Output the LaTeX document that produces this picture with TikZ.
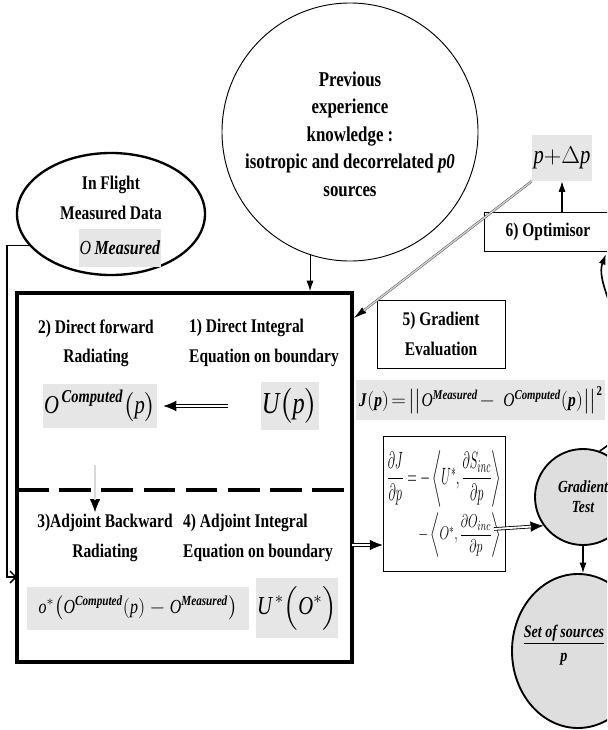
\documentclass[tikz,border=0pt]{standalone}
\usepackage{amsmath}
\usepackage{graphicx}
\usepackage{fontspec}
\setmainfont{Liberation Serif}[FakeStretch=0.8]
\definecolor{boxgray}{RGB}{230,230,230}
\definecolor{ballgray}{RGB}{222,222,222}
\usetikzlibrary{arrows.meta,positioning,shapes.geometric,calc}
% double shaft drawn over a plain arrow, so the head stays solid
\newcommand{\dbllink}[4]{%
  \draw[#2] #3 -- #4;
  \draw[#1] #3 -- ($#4!10.5pt!#3$);}

\begin{document}
\begin{tikzpicture}[x=0.03cm, y=-0.03cm,
    lbl/.style={font=\fontsize{16.5}{25}\selectfont\bfseries, inner sep=0pt},
    gbox/.style={fill=boxgray, inner sep=1pt},
    tbox/.style={draw, line width=0.8pt, align=center,
                 font=\fontsize{16.5}{25}\selectfont\bfseries},
    oval/.style={ellipse, draw, inner sep=0pt},
    ball/.style={draw, line width=1.6pt, fill=ballgray, inner sep=0pt},
    arr/.style={-{Latex[length=9pt,width=6pt]}, line width=0.9pt},
    tipline/.style={line width=0.6pt, -{Latex[length=11pt,width=9pt]}},
    thintip/.style={line width=0.4pt, -{Latex[length=11pt,width=6pt]}},
    dblshaft/.style={double, double distance=1.6pt, line width=0.7pt},
    grayshaft/.style={draw=gray, double=gray!30, double distance=1.4pt, line width=0.5pt},
    thinshaft/.style={draw=gray!60!black, double=gray!35, double distance=1.2pt, line width=0.4pt}
  ]
    \useasboundingbox (0,0) rectangle (607,730);
    \clip (0,0) rectangle (607,730);

    % Prior knowledge
    \node[oval, line width=0.8pt, minimum width=7.68cm, minimum height=7.74cm] (prev) at (350,132) {};
    \node[lbl, align=center, font=\fontsize{18}{23.5}\selectfont\bfseries] (prevtxt) at (350,134)
      {Previous\\experience\\knowledge :\\isotropic and decorrelated \textit{p0}\\sources};

    % Measured data
    \node[oval, line width=2pt, minimum width=5.64cm, minimum height=3.66cm] (flight) at (111,214) {};
    \node[lbl, align=center] (flighttxt) at (111,198) {In Flight\\Measured Data};
    \node[gbox, font=\fontsize{17}{20}\selectfont, minimum width=2.4cm, minimum height=1.14cm] (meas) at (120,248)
      {\textit{O}\,\textbf{\textit{Measured}}};

    % Solver block
    \node[draw, line width=3pt, minimum width=10.05cm, minimum height=11.07cm, inner sep=0pt] (core) at (184.5,477.5) {};
    \coordinate (split) at (17,490);
    \draw[line width=3.2pt, dash pattern=on 27pt off 9pt] (split) -- (split -| core.east);

    \node[lbl, align=center] (fwd) at (96,343) {2) Direct forward\\Radiating};
    \node[lbl, align=left, anchor=west] (dirint) at (189,343) {1) Direct Integral\\Equation on boundary};
    \node[lbl, align=center] (bwd) at (105,538) {3)Adjoint Backward\\Radiating};
    \node[lbl, align=left, anchor=west] (adjint) at (183,538) {4) Adjoint Integral\\Equation on boundary};

    \node[gbox, font=\fontsize{22}{24}\selectfont, minimum width=3.42cm, minimum height=1.32cm] (ocomp) at (100,406)
      {$\textit{O}^{\,\textbf{\textit{Computed}}}\big(\textit{p}\big)$};
    \node[gbox, font=\fontsize{26}{28}\selectfont, minimum width=1.53cm, minimum height=1.44cm] (up) at (290,406)
      {$\textit{U}\big(\textit{p}\big)$};
    \dbllink{dblshaft}{tipline}{($(up.west)+(-32,0)$)}{($(up.west -| ocomp.east)+(6,0)$)}

    \coordinate (dnA) at (95,465);
    \coordinate (dnB) at (95,512);
    \dbllink{grayshaft}{tipline}{(dnA)}{(dnB)}

    \node[gbox, font=\fontsize{17}{20}\selectfont, minimum width=6.66cm, minimum height=1.29cm] (adj) at (138,608)
      {$\textit{o}^{*}\big(\textit{O}^{\textbf{\textit{Computed}}}(\textit{p}) - \textit{O}^{\textbf{\textit{Measured}}}\big)$};
    \node[gbox, font=\fontsize{22}{24}\selectfont, minimum width=2.19cm, minimum height=1.8cm] (ustar) at (297,608)
      {$\textit{U}^{\,*}\Big(\textit{O}^{*}\Big)$};

    % Optimisation loop
    \node[tbox, minimum width=3.84cm, minimum height=2.04cm] (geval) at (441,334) {5) Gradient\\Evaluation};
    \node[tbox, minimum width=3.84cm, minimum height=1.17cm] (opt) at (548,232) {6) Optimisor};
    \node[gbox, font=\fontsize{22}{24}\selectfont, minimum width=1.8cm, minimum height=1.38cm] (pdp) at (562,158)
      {$\textit{p}{+}\Delta\textit{p}$};
    \draw[arr] (pdp.south |- opt.north) -- (pdp.south);

    \node[gbox, font=\fontsize{16.5}{18}\selectfont, minimum width=7.47cm, minimum height=1.2cm, anchor=west] (jfun) at (356,400)
      {$\textbf{\textit{J}}(\textbf{\textit{p}})\!=\!\big|\big|\textit{O}^{\textbf{\textit{Measured}}}\!-\ \textit{O}^{\textbf{\textit{Computed}}}(\textbf{\textit{p}})\big|\big|^{\textbf{2}}$};

    \node[draw, line width=0.6pt, inner sep=2pt, font=\fontsize{15}{17}\selectfont, align=right,
          minimum width=3.66cm, minimum height=4.05cm] (fgrad) at (444,504)
      {\scalebox{0.74}[1.4]{$\dfrac{\partial J}{\partial p} = -\left\langle U^{*}, \dfrac{\partial S_{inc}}{\partial p}\right\rangle$}\\[4pt]
       \scalebox{0.74}[1.1]{$-\left\langle O^{*}, \dfrac{\partial O_{inc}}{\partial p}\right\rangle$}};

    \node[ball, circle, minimum size=2.88cm, align=center,
          font=\fontsize{14.5}{17}\selectfont\bfseries\itshape] (gtest) at (583,497) {Gradient\\Test};
    \node[ball, ellipse, minimum width=3.96cm, minimum height=4.62cm] (srcs) at (578,651) {};
    \node[inner sep=0pt, align=center, font=\fontsize{15}{21}\selectfont\bfseries\itshape] (srcstxt) at (564,645)
      {\underline{Set of sources}\\\textit{p}};

    % Connectors
    \coordinate (retin) at (17,577);
    \draw[line width=1.3pt, -{Straight Barb[length=5pt,width=10pt]}] (flight.201) -- ++(-22,0) |- (retin);
    \draw[arr, line width=0.8pt] (prev.252) -- (prev.252 |- core.north);
    \coordinate (fbin) at (354,318);
    \dbllink{thinshaft}{thintip}{(pdp.south west)}{(fbin)}
    \coordinate (adjout) at (352,545);
    \dbllink{dblshaft}{tipline}{(adjout)}{(adjout -| fgrad.west)}
    \coordinate (gradout) at (494,529);
    \dbllink{dblshaft}{tipline}{(gradout)}{(gtest.216)}
    \draw[arr] (gtest.south) -- (gtest.south |- srcs.north);
    \coordinate (optin) at (606,254);
    \draw[arr, line width=1.4pt] (gtest.70) .. controls (680,400) and (590,295) .. (optin);
\end{tikzpicture}
\end{document}
